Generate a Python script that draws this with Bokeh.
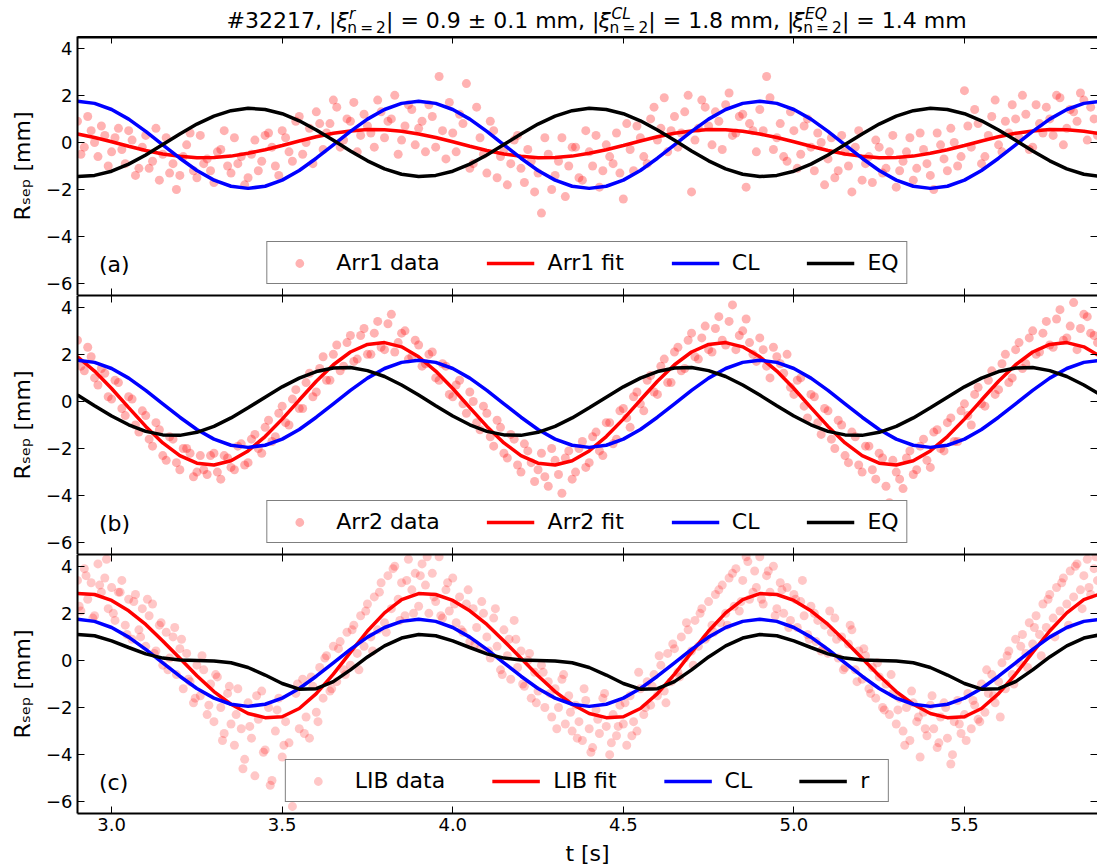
from bokeh.plotting import figure
from bokeh.layouts import column
from bokeh.models import (Range1d, LinearAxis, FixedTicker, Legend, LegendItem,
                          Label, CustomJSTickFormatter, CustomLabelingPolicy)
from bokeh.core.properties import value
from bokeh.embed import file_html
from bokeh.resources import INLINE

FONT = "DejaVu Sans"

# ---------------- fitted / model curves, sampled every 50 ms ----------------
T_CURVE = [
    2.90, 2.95, 3.00, 3.05, 3.10, 3.15, 3.20, 3.25, 3.30, 3.35,
    3.40, 3.45, 3.50, 3.55, 3.60, 3.65, 3.70, 3.75, 3.80, 3.85,
    3.90, 3.95, 4.00, 4.05, 4.10, 4.15, 4.20, 4.25, 4.30, 4.35,
    4.40, 4.45, 4.50, 4.55, 4.60, 4.65, 4.70, 4.75, 4.80, 4.85,
    4.90, 4.95, 5.00, 5.05, 5.10, 5.15, 5.20, 5.25, 5.30, 5.35,
    5.40, 5.45, 5.50, 5.55, 5.60, 5.65, 5.70, 5.75, 5.80, 5.85,
    5.90]

CL = [
    1.75, 1.66, 1.40, 0.99, 0.47, -0.10, -0.67, -1.19, -1.60, -1.86,
    -1.95, -1.86, -1.60, -1.19, -0.67, -0.10, 0.47, 0.99, 1.40, 1.66,
    1.75, 1.66, 1.40, 0.99, 0.47, -0.10, -0.67, -1.19, -1.60, -1.86,
    -1.95, -1.86, -1.60, -1.19, -0.67, -0.10, 0.47, 0.99, 1.40, 1.66,
    1.75, 1.66, 1.40, 0.99, 0.47, -0.10, -0.67, -1.19, -1.60, -1.86,
    -1.95, -1.86, -1.60, -1.19, -0.67, -0.10, 0.47, 0.99, 1.40, 1.66,
    1.75]

EQ_A = [
    -1.45, -1.40, -1.22, -0.92, -0.53, -0.09, 0.36, 0.78, 1.12, 1.35,
    1.45, 1.40, 1.22, 0.92, 0.53, 0.09, -0.36, -0.78, -1.12, -1.35,
    -1.45, -1.40, -1.22, -0.92, -0.53, -0.09, 0.36, 0.78, 1.12, 1.35,
    1.45, 1.40, 1.22, 0.92, 0.53, 0.09, -0.36, -0.78, -1.12, -1.35,
    -1.45, -1.40, -1.22, -0.92, -0.53, -0.09, 0.36, 0.78, 1.12, 1.35,
    1.45, 1.40, 1.22, 0.92, 0.53, 0.09, -0.36, -0.78, -1.12, -1.35,
    -1.45]

FIT_A = [
    0.36, 0.21, 0.03, -0.16, -0.34, -0.49, -0.59, -0.65, -0.64, -0.58,
    -0.46, -0.31, -0.13, 0.06, 0.24, 0.39, 0.49, 0.55, 0.54, 0.48,
    0.36, 0.21, 0.03, -0.16, -0.34, -0.49, -0.59, -0.65, -0.64, -0.58,
    -0.46, -0.31, -0.13, 0.06, 0.24, 0.39, 0.49, 0.55, 0.54, 0.48,
    0.36, 0.21, 0.03, -0.16, -0.34, -0.49, -0.59, -0.65, -0.64, -0.58,
    -0.46, -0.31, -0.13, 0.06, 0.24, 0.39, 0.49, 0.55, 0.54, 0.48,
    0.36]

FIT_B = [
    1.90, 1.29, 0.55, -0.26, -1.06, -1.76, -2.30, -2.62, -2.70, -2.52,
    -2.10, -1.49, -0.75, 0.06, 0.86, 1.56, 2.10, 2.42, 2.50, 2.32,
    1.90, 1.29, 0.55, -0.26, -1.06, -1.76, -2.30, -2.62, -2.70, -2.52,
    -2.10, -1.49, -0.75, 0.06, 0.86, 1.56, 2.10, 2.42, 2.50, 2.32,
    1.90, 1.29, 0.55, -0.26, -1.06, -1.76, -2.30, -2.62, -2.70, -2.52,
    -2.10, -1.49, -0.75, 0.06, 0.86, 1.56, 2.10, 2.42, 2.50, 2.32,
    1.90]

EQ_B = [
    0.27, -0.18, -0.62, -0.99, -1.27, -1.42, -1.44, -1.31, -1.06, -0.70,
    -0.27, 0.18, 0.62, 0.99, 1.27, 1.42, 1.44, 1.31, 1.06, 0.70,
    0.27, -0.18, -0.62, -0.99, -1.27, -1.42, -1.44, -1.31, -1.06, -0.70,
    -0.27, 0.18, 0.62, 0.99, 1.27, 1.42, 1.44, 1.31, 1.06, 0.70,
    0.27, -0.18, -0.62, -0.99, -1.27, -1.42, -1.44, -1.31, -1.06, -0.70,
    -0.27, 0.18, 0.62, 0.99, 1.27, 1.42, 1.44, 1.31, 1.06, 0.70,
    0.27]

FIT_C = [
    2.84, 2.80, 2.55, 2.11, 1.53, 0.83, 0.09, -0.65, -1.32, -1.86,
    -2.25, -2.43, -2.39, -2.04, -1.41, -0.58, 0.34, 1.25, 2.02, 2.58,
    2.84, 2.80, 2.55, 2.11, 1.53, 0.83, 0.09, -0.65, -1.32, -1.86,
    -2.25, -2.43, -2.39, -2.04, -1.41, -0.58, 0.34, 1.25, 2.02, 2.58,
    2.84, 2.80, 2.55, 2.11, 1.53, 0.83, 0.09, -0.65, -1.32, -1.86,
    -2.25, -2.43, -2.39, -2.04, -1.41, -0.58, 0.34, 1.25, 2.02, 2.58,
    2.84]

R_C = [
    1.10, 1.05, 0.83, 0.55, 0.28, 0.10, 0.02, 0.00, -0.02, -0.10,
    -0.30, -0.62, -0.98, -1.22, -1.20, -0.90, -0.40, 0.15, 0.62, 0.95,
    1.10, 1.05, 0.83, 0.55, 0.28, 0.10, 0.02, 0.00, -0.02, -0.10,
    -0.30, -0.62, -0.98, -1.22, -1.20, -0.90, -0.40, 0.15, 0.62, 0.95,
    1.10, 1.05, 0.83, 0.55, 0.28, 0.10, 0.02, 0.00, -0.02, -0.10,
    -0.30, -0.62, -0.98, -1.22, -1.20, -0.90, -0.40, 0.15, 0.62, 0.95,
    1.10]

# ---------------- measured separatrix positions ----------------
T_ARR = [
    2.90, 2.91, 2.92, 2.93, 2.94, 2.95, 2.96, 2.97, 2.98, 2.99,
    3.00, 3.01, 3.02, 3.03, 3.04, 3.05, 3.06, 3.07, 3.08, 3.09,
    3.10, 3.11, 3.12, 3.13, 3.14, 3.15, 3.16, 3.17, 3.18, 3.19,
    3.20, 3.21, 3.22, 3.23, 3.24, 3.25, 3.26, 3.27, 3.28, 3.29,
    3.30, 3.31, 3.32, 3.33, 3.34, 3.35, 3.36, 3.37, 3.38, 3.39,
    3.40, 3.41, 3.42, 3.43, 3.44, 3.45, 3.46, 3.47, 3.48, 3.49,
    3.50, 3.51, 3.52, 3.53, 3.54, 3.55, 3.56, 3.57, 3.58, 3.59,
    3.60, 3.61, 3.62, 3.63, 3.64, 3.65, 3.66, 3.67, 3.68, 3.69,
    3.70, 3.71, 3.72, 3.73, 3.74, 3.75, 3.76, 3.77, 3.78, 3.79,
    3.80, 3.81, 3.82, 3.83, 3.84, 3.85, 3.86, 3.87, 3.88, 3.89,
    3.90, 3.91, 3.92, 3.93, 3.94, 3.95, 3.96, 3.97, 3.98, 3.99,
    4.00, 4.01, 4.02, 4.03, 4.04, 4.05, 4.06, 4.07, 4.08, 4.09,
    4.10, 4.11, 4.12, 4.13, 4.14, 4.15, 4.16, 4.17, 4.18, 4.19,
    4.20, 4.21, 4.22, 4.23, 4.24, 4.25, 4.26, 4.27, 4.28, 4.29,
    4.30, 4.31, 4.32, 4.33, 4.34, 4.35, 4.36, 4.37, 4.38, 4.39,
    4.40, 4.41, 4.42, 4.43, 4.44, 4.45, 4.46, 4.47, 4.48, 4.49,
    4.50, 4.51, 4.52, 4.53, 4.54, 4.55, 4.56, 4.57, 4.58, 4.59,
    4.60, 4.61, 4.62, 4.63, 4.64, 4.65, 4.66, 4.67, 4.68, 4.69,
    4.70, 4.71, 4.72, 4.73, 4.74, 4.75, 4.76, 4.77, 4.78, 4.79,
    4.80, 4.81, 4.82, 4.83, 4.84, 4.85, 4.86, 4.87, 4.88, 4.89,
    4.90, 4.91, 4.92, 4.93, 4.94, 4.95, 4.96, 4.97, 4.98, 4.99,
    5.00, 5.01, 5.02, 5.03, 5.04, 5.05, 5.06, 5.07, 5.08, 5.09,
    5.10, 5.11, 5.12, 5.13, 5.14, 5.15, 5.16, 5.17, 5.18, 5.19,
    5.20, 5.21, 5.22, 5.23, 5.24, 5.25, 5.26, 5.27, 5.28, 5.29,
    5.30, 5.31, 5.32, 5.33, 5.34, 5.35, 5.36, 5.37, 5.38, 5.39,
    5.40, 5.41, 5.42, 5.43, 5.44, 5.45, 5.46, 5.47, 5.48, 5.49,
    5.50, 5.51, 5.52, 5.53, 5.54, 5.55, 5.56, 5.57, 5.58, 5.59,
    5.60, 5.61, 5.62, 5.63, 5.64, 5.65, 5.66, 5.67, 5.68, 5.69,
    5.70, 5.71, 5.72, 5.73, 5.74, 5.75, 5.76, 5.77, 5.78, 5.79,
    5.80, 5.81, 5.82, 5.83, 5.84, 5.85, 5.86, 5.87, 5.88, 5.89]

ARR1 = [
    0.9, -0.5, -0.2, 1.1, 0.5, 0.0, -0.6, 0.7, 0.3, -1.0,
    -0.4, 0.2, 0.6, -0.3, -0.9, 0.5, 0.1, -1.4, -1.1, -0.2,
    0.3, -1.1, -0.8, 0.6, -1.6, -0.5, 0.2, -1.3, -0.9, -2.0,
    -1.4, -0.6, -0.1, 0.4, -1.2, -1.5, 0.3, -0.9, -0.7, -1.2,
    -1.7, -0.4, -0.3, 0.5, -1.0, -1.3, 0.2, -0.9, -0.6, -1.8,
    -1.5, -0.5, 0.1, -1.2, -0.8, 0.3, 0.4, -0.2, -1.0, -1.4,
    0.5, 0.2, -0.4, -0.8, 0.9, 1.1, -0.5, 0.0, 0.6, -0.9,
    1.3, 0.8, -0.3, 0.4, 0.8, 1.8, 1.5, -0.2, 0.1, 1.0,
    0.9, 1.7, -0.4, 0.3, 1.2, 0.7, 0.4, -0.2, 1.8, 1.3,
    0.2, 0.9, 1.0, 2.0, -0.5, 0.1, 0.7, 1.6, 1.4, -0.1,
    0.6, 0.9, -0.4, 1.6, 1.1, -0.2, 2.8, 0.5, -0.7, 1.7,
    0.4, -0.4, 1.2, 0.8, 2.5, -1.1, -0.9, 1.5, 0.2, -0.5,
    -1.3, 0.9, 0.5, -1.5, -0.6, -0.3, -1.8, -0.9, 0.1, 0.3,
    -1.1, -1.7, -0.3, -0.8, -2.1, -1.3, -3.0, 0.2, -0.5, -2.0,
    -1.4, -0.8, 0.2, -2.3, -1.0, -0.2, -0.2, -1.5, -1.6, 0.5,
    -0.4, -1.0, 0.3, -1.9, -1.2, -0.1, -0.6, -0.9, 0.4, -1.3,
    -2.4, 0.8, -0.3, -1.2, 0.7, 0.2, -0.6, -0.9, 1.0, 1.5,
    0.1, 0.6, 1.9, -0.4, 0.5, 1.1, -0.2, 0.4, 1.3, 2.0,
    -2.1, 0.1, 0.6, 1.8, 1.5, 0.7, -0.1, 1.3, 0.9, -0.3,
    1.6, 2.1, 0.3, 0.4, 1.1, 1.2, -1.9, 0.8, 0.5, -0.4,
    1.4, 0.5, 2.8, 1.9, -0.3, 0.2, 0.8, -0.6, -0.8, 1.3,
    0.5, -1.1, -0.5, 0.7, 1.0, -0.2, -1.2, 0.4, 0.0, -1.8,
    -0.7, 0.2, -1.5, -1.2, 0.3, -0.4, -1.0, -2.1, -0.2, 0.5,
    -1.6, -0.9, -0.6, -1.7, 0.1, -0.2, -1.3, -1.1, -0.4, 0.3,
    -1.9, -1.2, -0.8, -0.4, 0.2, -1.6, -1.1, 0.4, -0.3, -0.9,
    -1.4, -2.0, 0.4, -0.1, -0.7, -1.2, 0.6, 0.0, -1.0, -0.6,
    2.2, 0.7, -0.2, 1.4, 0.8, -0.9, -0.6, 0.3, 1.1, 1.8,
    -0.1, -0.4, 0.9, 0.4, 1.6, 1.0, 0.2, 2.0, 1.2, -0.3,
    -0.2, 1.6, 0.8, 0.4, 1.5, 1.0, 0.3, 2.0, 1.9, -0.1,
    0.6, 1.4, 1.3, 0.9, 2.1, 1.8, 0.1, 1.5, 1.0, 0.3]

ARR2 = [
    2.6, 1.5, 1.3, 2.3, 1.9, 1.0, 0.7, 1.4, 1.2, 0.2,
    0.1, 0.9, 0.8, -0.3, -0.6, 0.2, 0.1, -1.0, -1.3, -0.4,
    -0.6, -1.6, -1.9, -0.9, -1.2, -2.3, -2.5, -1.5, -1.6, -2.6,
    -2.9, -2.0, -2.0, -2.2, -3.2, -3.0, -2.3, -2.9, -3.1, -2.3,
    -2.2, -3.0, -3.3, -2.3, -2.4, -2.8, -2.9, -1.9, -1.8, -2.7,
    -2.6, -1.6, -1.4, -2.0, -2.2, -1.1, -0.8, -1.7, -1.5, -0.5,
    -0.2, -0.9, -1.0, 0.1, 0.5, -0.3, -0.3, 0.8, 1.2, 0.2,
    0.4, 1.4, 1.9, 0.9, 0.9, 2.0, 2.4, 1.3, 1.5, 2.5,
    2.8, 1.7, 1.8, 2.8, 3.1, 2.0, 2.0, 2.9, 3.4, 2.3,
    2.2, 3.3, 3.7, 2.1, 2.5, 2.9, 3.0, 1.8, 1.9, 2.6,
    2.4, 1.5, 1.6, 2.0, 2.1, 1.0, 0.9, 1.6, 1.5, 0.3,
    0.2, 0.7, 0.9, -0.1, -0.5, 0.4, 0.0, -0.9, -1.2, -0.2,
    -0.5, -1.5, -1.9, -0.8, -1.1, -2.2, -2.4, -1.4, -1.6, -2.7,
    -3.0, -1.8, -2.1, -2.6, -3.4, -2.9, -2.2, -3.2, -3.6, -2.0,
    -2.5, -3.1, -3.9, -2.4, -2.1, -3.3, -3.0, -2.0, -1.7, -2.8,
    -2.6, -1.5, -1.3, -2.1, -2.3, -0.9, -0.9, -1.8, -1.6, -0.4,
    -0.3, -0.7, -1.1, 0.2, 0.4, -0.1, -0.4, 0.9, 1.1, 0.4,
    0.3, 1.5, 1.8, 0.8, 0.8, 2.1, 2.3, 1.3, 1.4, 2.6,
    2.9, 1.9, 1.8, 2.7, 3.2, 2.2, 2.1, 3.1, 3.6, 2.6,
    2.4, 3.4, 4.1, 2.2, 2.8, 3.0, 3.5, 2.5, 2.0, 1.7,
    2.7, 2.2, 1.5, 1.0, 2.3, 1.9, 1.6, 1.2, 2.0, 0.6,
    0.3, 0.9, 1.0, -0.2, -0.7, 0.3, 0.2, -0.9, -1.4, -0.3,
    -0.4, -1.6, -2.0, -0.8, -1.0, -2.3, -2.6, -1.3, -1.5, -2.7,
    -3.0, -1.9, -1.9, -2.9, -3.3, -2.2, -2.4, -3.6, -4.3, -2.5,
    -3.0, -3.3, -3.7, -2.4, -2.1, -3.1, -2.9, -1.9, -1.6, -2.5,
    -2.8, -1.3, -1.2, -2.0, -2.1, -0.9, -0.7, -1.7, -1.7, -0.4,
    -0.1, -0.6, -1.0, 0.3, 0.6, -0.1, -0.2, 0.9, 1.3, 0.3,
    0.5, 1.6, 2.0, 0.8, 1.0, 2.2, 2.5, 1.4, 1.6, 2.7,
    3.0, 2.0, 2.1, 2.9, 3.4, 2.4, 2.3, 3.5, 3.9, 2.6,
    2.7, 3.2, 4.2, 2.2, 3.1, 3.7, 3.6, 2.9, 2.8, 2.5]

T_LIB = [
    2.900, 2.905, 2.910, 2.920, 2.925, 2.930, 2.940, 2.945, 2.950, 2.960,
    2.965, 2.970, 2.980, 2.985, 2.990, 3.000, 3.005, 3.010, 3.020, 3.025,
    3.030, 3.040, 3.045, 3.050, 3.060, 3.065, 3.070, 3.080, 3.085, 3.090,
    3.100, 3.105, 3.110, 3.120, 3.125, 3.130, 3.140, 3.145, 3.150, 3.160,
    3.165, 3.170, 3.180, 3.185, 3.190, 3.200, 3.205, 3.210, 3.220, 3.225,
    3.230, 3.240, 3.245, 3.250, 3.260, 3.265, 3.270, 3.280, 3.285, 3.290,
    3.300, 3.305, 3.310, 3.320, 3.325, 3.330, 3.340, 3.345, 3.350, 3.360,
    3.365, 3.370, 3.380, 3.385, 3.390, 3.400, 3.405, 3.410, 3.420, 3.425,
    3.430, 3.440, 3.445, 3.450, 3.460, 3.465, 3.470, 3.480, 3.485, 3.490,
    3.500, 3.505, 3.510, 3.520, 3.525, 3.530, 3.540, 3.545, 3.550, 3.560,
    3.565, 3.570, 3.580, 3.585, 3.590, 3.600, 3.605, 3.610, 3.620, 3.625,
    3.630, 3.640, 3.645, 3.650, 3.660, 3.665, 3.670, 3.680, 3.685, 3.690,
    3.700, 3.705, 3.710, 3.720, 3.725, 3.730, 3.740, 3.745, 3.750, 3.760,
    3.765, 3.770, 3.780, 3.785, 3.790, 3.800, 3.805, 3.810, 3.820, 3.825,
    3.830, 3.840, 3.845, 3.850, 3.860, 3.865, 3.870, 3.880, 3.885, 3.890,
    3.900, 3.905, 3.910, 3.920, 3.925, 3.930, 3.940, 3.945, 3.950, 3.960,
    3.965, 3.970, 3.980, 3.985, 3.990, 4.000, 4.005, 4.010, 4.020, 4.025,
    4.030, 4.040, 4.045, 4.050, 4.060, 4.065, 4.070, 4.080, 4.085, 4.090,
    4.100, 4.105, 4.110, 4.120, 4.125, 4.130, 4.140, 4.145, 4.150, 4.160,
    4.165, 4.170, 4.180, 4.185, 4.190, 4.200, 4.205, 4.210, 4.220, 4.225,
    4.230, 4.240, 4.245, 4.250, 4.260, 4.265, 4.270, 4.280, 4.285, 4.290,
    4.300, 4.305, 4.310, 4.320, 4.325, 4.330, 4.340, 4.345, 4.350, 4.360,
    4.365, 4.370, 4.380, 4.385, 4.390, 4.400, 4.405, 4.410, 4.420, 4.425,
    4.430, 4.440, 4.445, 4.450, 4.460, 4.465, 4.470, 4.480, 4.485, 4.490,
    4.500, 4.505, 4.510, 4.520, 4.525, 4.530, 4.540, 4.545, 4.550, 4.560,
    4.565, 4.570, 4.580, 4.585, 4.590, 4.600, 4.605, 4.610, 4.620, 4.625,
    4.630, 4.640, 4.645, 4.650, 4.660, 4.665, 4.670, 4.680, 4.685, 4.690,
    4.700, 4.705, 4.710, 4.720, 4.725, 4.730, 4.740, 4.745, 4.750, 4.760,
    4.765, 4.770, 4.780, 4.785, 4.790, 4.800, 4.805, 4.810, 4.820, 4.825,
    4.830, 4.840, 4.845, 4.850, 4.860, 4.865, 4.870, 4.880, 4.885, 4.890,
    4.900, 4.905, 4.910, 4.920, 4.925, 4.930, 4.940, 4.945, 4.950, 4.960,
    4.965, 4.970, 4.980, 4.985, 4.990, 5.000, 5.005, 5.010, 5.020, 5.025,
    5.030, 5.040, 5.045, 5.050, 5.060, 5.065, 5.070, 5.080, 5.085, 5.090,
    5.100, 5.105, 5.110, 5.120, 5.125, 5.130, 5.140, 5.145, 5.150, 5.160,
    5.165, 5.170, 5.180, 5.185, 5.190, 5.200, 5.205, 5.210, 5.220, 5.225,
    5.230, 5.240, 5.245, 5.250, 5.260, 5.265, 5.270, 5.280, 5.285, 5.290,
    5.300, 5.305, 5.310, 5.320, 5.325, 5.330, 5.340, 5.345, 5.350, 5.360,
    5.365, 5.370, 5.380, 5.385, 5.390, 5.400, 5.405, 5.410, 5.420, 5.425,
    5.430, 5.440, 5.445, 5.450, 5.460, 5.465, 5.470, 5.480, 5.485, 5.490,
    5.500, 5.505, 5.510, 5.520, 5.525, 5.530, 5.540, 5.545, 5.550, 5.560,
    5.565, 5.570, 5.580, 5.585, 5.590, 5.600, 5.605, 5.610, 5.620, 5.625,
    5.630, 5.640, 5.645, 5.650, 5.660, 5.665, 5.670, 5.680, 5.685, 5.690,
    5.700, 5.705, 5.710, 5.720, 5.725, 5.730, 5.740, 5.745, 5.750, 5.760,
    5.765, 5.770, 5.780, 5.785, 5.790, 5.800, 5.805, 5.810, 5.820, 5.825,
    5.830, 5.840, 5.845, 5.850, 5.860, 5.865, 5.870, 5.880, 5.885, 5.890]

LIB = [
    3.4, 2.3, 2.1, 3.9, 3.6, 2.6, 3.3, 1.8, 1.9, 4.1,
    3.2, 2.9, 3.5, 4.3, 2.2, 3.1, 2.0, 1.7, 2.9, 2.9,
    3.4, 1.5, 1.1, 2.6, 0.9, 2.5, 2.8, 1.3, 1.0, 2.2,
    0.6, 2.6, 1.9, 2.4, 0.3, 0.4, 1.5, 1.6, -0.2, 1.2,
    -0.4, 0.1, 1.0, 1.4, -0.6, 0.5, 0.9, -1.2, 0.3, -0.8,
    -0.9, -1.8, -1.6, -0.2, -1.5, 0.2, -0.4, -2.3, -1.9, -1.0,
    -2.6, -0.6, -0.7, -2.0, -3.4, -3.1, -1.4, -1.1, -2.7, -3.6,
    -2.3, -1.2, -2.9, -4.6, -4.2, -1.8, -2.8, -3.3, -4.9, -1.5,
    -2.5, -1.3, -3.9, -3.8, -2.0, -5.3, -5.1, -3.0, -2.1, -1.6,
    -4.1, -3.6, -2.6, -3.5, -4.4, -6.2, -1.4, -1.0, -2.9, -0.8,
    -3.1, -2.4, -3.3, -0.7, -1.1, -2.2, -2.6, -0.3, -1.6, 0.1,
    0.2, -1.3, -1.2, 0.6, -0.9, 0.5, 0.8, -0.4, -0.6, 1.2,
    -0.2, 1.3, 1.5, 0.3, -0.4, 1.9, 0.6, 2.1, 2.4, 1.0,
    0.4, 2.7, 1.3, 2.9, 3.3, 1.6, 1.2, 3.6, 2.2, 3.9,
    4.0, 2.6, 1.7, 3.3, 1.9, 3.4, 4.3, 3.0, 2.0, 3.7,
    2.3, 3.6, 4.1, 3.2, 4.4, 2.0, 3.7, 2.7, 2.5, 4.4,
    1.9, 1.8, 3.0, 3.3, 2.1, 3.5, 2.4, 1.6, 2.7, 1.3,
    1.2, 2.4, 3.0, 0.8, 2.2, 0.7, 1.4, 0.5, 2.5, 2.0,
    1.0, 0.4, 0.1, 1.8, 2.2, 0.6, -0.4, -0.6, 1.3, 0.2,
    0.9, -0.8, 1.7, 0.9, -0.3, 0.4, -1.0, -1.1, 0.0, 0.3,
    -1.6, -0.5, -1.8, -1.3, -0.2, -0.5, -2.0, -0.9, -1.4, -2.4,
    -1.2, -2.9, -2.0, -0.8, -0.6, -2.7, -1.5, -2.2, -3.0, -1.9,
    -3.3, -2.6, -3.4, -1.2, -1.7, -2.9, -3.9, -3.7, -2.1, -2.5,
    -3.1, -1.6, -1.4, -2.8, -4.0, -3.5, -2.3, -3.2, -2.8, -1.9,
    -2.7, -1.8, -3.6, -1.5, -3.2, -2.6, -3.0, -0.5, -1.2, -2.3,
    -2.0, -0.9, -1.9, -1.1, -0.6, -1.5, 0.2, -0.2, -1.3, -1.8,
    0.3, -0.9, 0.7, 0.5, -0.5, -0.7, 1.0, 0.1, 1.6, 1.3,
    0.4, -0.2, 1.7, 0.6, 2.0, 2.2, 0.9, 1.0, 2.5, 1.5,
    1.2, 2.8, 3.0, 1.6, 3.2, 2.0, 1.5, 3.5, 3.7, 2.3,
    3.9, 2.1, 2.5, 3.4, 4.4, 4.2, 2.6, 2.9, 3.8, 3.1,
    4.4, 2.6, 2.4, 3.6, 3.8, 2.9, 4.0, 1.9, 2.2, 3.3,
    3.0, 2.0, 3.1, 1.4, 1.7, 2.8, 2.6, 1.4, 2.5, 3.4,
    1.9, 1.1, 0.9, 2.3, 2.0, 0.8, 1.7, 0.4, 0.5, 1.5,
    0.3, 2.1, 1.2, 1.8, 0.9, 0.1, 1.0, -0.4, -0.3, 0.7,
    1.5, 1.3, -0.4, -0.9, 0.4, -0.8, 0.5, 0.2, -1.2, -1.4,
    -0.3, -1.6, -0.1, -0.7, -2.0, -2.1, -1.0, -2.3, -0.6, -1.4,
    -2.7, -2.1, -1.6, -3.0, -3.6, -2.0, -3.4, -1.3, -1.8, -2.6,
    -2.4, -4.1, -2.2, -2.9, -3.2, -1.9, -1.5, -2.9, -3.7, -3.5,
    -2.4, -1.8, -2.0, -3.3, -4.4, -4.0, -2.6, -1.7, -2.7, -3.1,
    -2.3, -3.4, -1.4, -2.9, -1.7, -1.9, -2.5, -2.6, -1.0, -2.2,
    -0.4, -1.4, -0.6, -1.5, -1.8, -0.9, -2.4, -0.1, -1.2, 0.2,
    0.4, -0.6, -1.0, 0.9, -0.1, 0.6, 1.1, 0.3, -0.3, 1.6,
    0.7, 1.4, 1.9, 1.1, 0.2, 2.4, 1.4, 2.6, 2.8, 1.8,
    1.0, 3.1, 2.1, 3.3, 3.5, 2.4, 1.5, 3.8, 2.7, 4.0,
    4.1, 3.0, 2.2, 3.6, 4.3, 3.1, 2.8, 3.9, 4.4, 3.4]

X_TICKS = [3.0, 3.5, 4.0, 4.5, 5.0, 5.5]
Y_TICKS = [-6, -4, -2, 0, 2, 4]

# ---------------- layout constants ----------------
WIDTH = 1097
LEFT = 77
FRAME_H = 259
TITLE_H = 36
X0, X1 = 2.90, 5.89
Y0, Y1 = -6.5, 4.5
PX_PER_T = (WIDTH - LEFT) / (X1 - X0)

x_range = Range1d(X0, X1)
x_fmt = CustomJSTickFormatter(code="return tick.toFixed(1);")
y_fmt = CustomJSTickFormatter(code="return tick < 0 ? '\u2212' + (-tick) : String(tick);")


def px_to_t(px):
    return X0 + (px - LEFT) / PX_PER_T


def style_axis(ax, ticks, fmt, labels, line_width):
    ax.ticker = FixedTicker(ticks=ticks, minor_ticks=[])
    ax.formatter = fmt
    ax.major_tick_in = 7
    ax.major_tick_out = 0
    ax.major_tick_line_color = "black"
    ax.major_tick_line_width = 1
    ax.minor_tick_line_color = None
    if line_width:
        ax.axis_line_color = "black"
        ax.axis_line_width = line_width
    else:
        ax.axis_line_color = None
    ax.major_label_text_font = FONT
    ax.major_label_text_color = "black"
    if labels:
        ax.major_label_text_font_size = "18px"
        ax.major_label_standoff = 5
    else:
        # tick marks only
        ax.major_label_text_font_size = "0px"
        ax.major_label_standoff = 0
        ax.major_label_policy = CustomLabelingPolicy(code="return [];")


def make_panel(height, bottom, xlabels, top_line):
    p = figure(width=WIDTH, height=height, x_range=x_range, y_range=Range1d(Y0, Y1),
               output_backend="svg", toolbar_location=None,
               min_border_left=LEFT, min_border_right=0,
               min_border_top=0, min_border_bottom=bottom)
    p.xgrid.visible = False
    p.ygrid.visible = False
    p.outline_line_color = None
    p.background_fill_color = "white"
    p.add_layout(LinearAxis(), "above")
    p.add_layout(LinearAxis(), "right")
    style_axis(p.below[0], X_TICKS, x_fmt, xlabels, 2)
    style_axis(p.above[0], X_TICKS, x_fmt, False, top_line)
    style_axis(p.left[0], Y_TICKS, y_fmt, True, 2)
    style_axis(p.right[0], Y_TICKS, y_fmt, False, 0)
    yl = p.left[0]
    yl.axis_label = "R\u209b\u2091\u209a [mm]"
    yl.axis_label_text_font = FONT
    yl.axis_label_text_font_size = "22px"
    yl.axis_label_text_font_style = "normal"
    yl.axis_label_text_color = "black"
    yl.axis_label_standoff = 8
    if xlabels:
        xl = p.below[0]
        xl.major_label_standoff = 4
        xl.axis_label = "t [s]"
        xl.axis_label_text_font = FONT
        xl.axis_label_text_font_size = "22px"
        xl.axis_label_text_font_style = "normal"
        xl.axis_label_text_color = "black"
        xl.axis_label_standoff = 7
    return p


def draw_panel(p, t_pts, v_pts, alpha, fit, eq, names, tag):
    sc = p.scatter(t_pts, v_pts, size=9, fill_color="red", fill_alpha=alpha, line_color=None)
    lf = p.line(T_CURVE, fit, line_color="red", line_width=3.5)
    lc = p.line(T_CURVE, CL, line_color="blue", line_width=3.5)
    le = p.line(T_CURVE, eq, line_color="black", line_width=3.5)
    items = [LegendItem(label=n, renderers=[r]) for n, r in zip(names, [sc, lf, lc, le])]
    leg = Legend(items=items, orientation="horizontal", location="bottom_center",
                 label_text_font=FONT, label_text_font_size="22px", label_text_color="black",
                 glyph_width=48, glyph_height=22, label_standoff=13,
                 spacing=47, padding=8, margin=11,
                 border_line_color="black", border_line_width=1.5,
                 background_fill_color="white", background_fill_alpha=1.0)
    p.add_layout(leg)
    p.add_layout(Label(x=2.963, y=-5.2, text=tag, text_font=FONT, text_font_size="22px",
                       text_baseline="middle", text_align="left", text_color="black"))


# title strip above the panels; y in pixels measured downward from the page top
pt = figure(width=WIDTH, height=TITLE_H, x_range=x_range, y_range=Range1d(TITLE_H, 0),
            output_backend="svg", toolbar_location=None,
            min_border_left=LEFT, min_border_right=0, min_border_top=0, min_border_bottom=0,
            x_axis_location=None, y_axis_location=None)
pt.grid.visible = False
pt.outline_line_color = None

# vertical centres of the main line, superscripts and subscripts
MID, SUP, SUB = 20.4, 13.7, 27.3
TITLE_MAIN = (["#32217, |", "| = 0.9", "\u00b1", "0.1 mm, |", "| = 1.8 mm, |", "| = 1.4 mm"],
              [226.0, 385.5, 467.3, 492.7, 647.8, 841.4])
TITLE_XI = (["\u03be", "\u03be", "\u03be"], [335.8, 598.1, 791.7])
TITLE_SUP = (["r", "CL", "EQ"], [348.5, 611.0, 804.5])
TITLE_SUB = (["n\u2009=\u20092", "n\u2009=\u20092", "n\u2009=\u20092"], [346.8, 609.1, 802.7])

for (texts, xs), ymid, size, style in [
        (TITLE_MAIN, MID, "22px", "normal"),
        (TITLE_XI, MID, "22px", "italic"),
        (TITLE_SUP, SUP, "15.4px", "italic"),
        (TITLE_SUB, SUB, "15.4px", "normal")]:
    pt.text(x=[px_to_t(v) for v in xs], y=[ymid] * len(xs), text=texts,
            text_font=value(FONT), text_font_size=value(size), text_font_style=value(style),
            text_color="black", text_align="left", text_baseline="middle")

pa = make_panel(FRAME_H, 0, False, 4)
pb = make_panel(FRAME_H, 0, False, 2)
pc = make_panel(314, 54, True, 2)

draw_panel(pa, T_ARR, ARR1, 0.3, FIT_A, EQ_A, ["Arr1 data", "Arr1 fit", "CL", "EQ"], "(a)")
draw_panel(pb, T_ARR, ARR2, 0.3, FIT_B, EQ_B, ["Arr2 data", "Arr2 fit", "CL", "EQ"], "(b)")
draw_panel(pc, T_LIB, LIB, 0.22, FIT_C, R_C, ["LIB data", "LIB fit", "CL", "r"], "(c)")

layout = column(pt, pa, pb, pc, spacing=0)
open("out.html", "w").write(file_html(layout, INLINE))
